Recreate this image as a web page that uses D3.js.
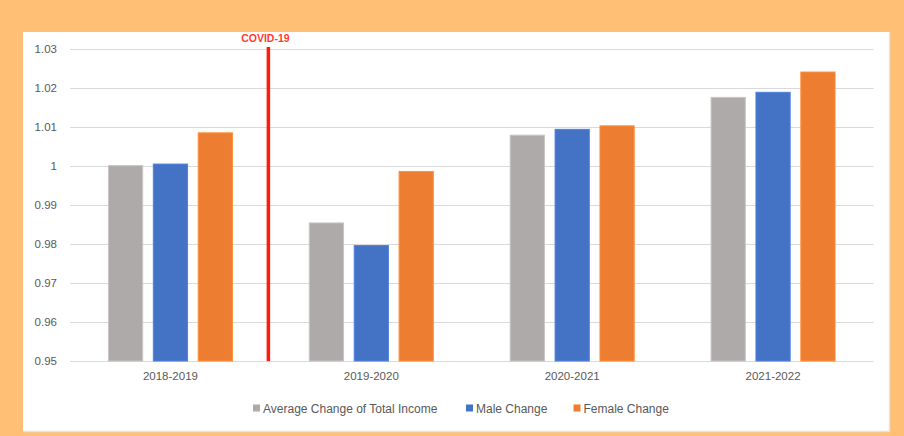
<!DOCTYPE html>
<html><head><meta charset="utf-8">
<script src="https://cdn.jsdelivr.net/npm/d3@7"></script>
<style>html,body{margin:0;padding:0;background:#FFBF75;}svg{display:block;}</style>
</head><body>
<svg id="chart" width="904" height="436"></svg>
<script>
const categories = ["2018-2019", "2019-2020", "2020-2021", "2021-2022"];
const seriesNames = ["Average Change of Total Income", "Male Change", "Female Change"];
const avgChange = [1.0001, 0.9854, 1.0079, 1.0176];
const maleChange = [1.0005, 0.9796, 1.0094, 1.0189];
const femaleChange = [1.0085, 0.9986, 1.0103, 1.0241];
const seriesColors = ["#AEAAAA", "#4472C4", "#ED7D31"];
const yTicks = [0.95, 0.96, 0.97, 0.98, 0.99, 1, 1.01, 1.02, 1.03];
const annotationLabel = "COVID-19";

const seriesValues = [avgChange, maleChange, femaleChange];
const font = "'Liberation Sans', Arial, sans-serif";
const svg = d3.select("#chart");

// background and panel
svg.append("rect").attr("width", 904).attr("height", 436).attr("fill", "#FFBF75");
svg.append("rect").attr("x", 23).attr("y", 32).attr("width", 866).attr("height", 399).attr("fill", "#fff");
svg.append("line").attr("x1", 889.5).attr("x2", 889.5).attr("y1", 32).attr("y2", 432).attr("stroke", "#E3E3E3").attr("stroke-width", 1.5);
svg.append("line").attr("x1", 23).attr("x2", 890).attr("y1", 431.5).attr("y2", 431.5).attr("stroke", "#E3E3E3").attr("stroke-width", 1.5);

const x = d3.scaleBand().domain(categories).range([70, 873.5]).paddingInner(0).paddingOuter(0);
const xs = d3.scaleBand().domain(seriesNames)
  .range([x.bandwidth() / 2 - 62.5, x.bandwidth() / 2 + 62.5]).paddingInner(0.215);
const y = d3.scaleLinear().domain([0.95, 1.03]).range([361, 49]);

// gridlines
svg.append("g").selectAll("line").data(yTicks).join("line")
  .attr("x1", 70).attr("x2", 873.5)
  .attr("y1", d => Math.round(y(d)) + 0.5).attr("y2", d => Math.round(y(d)) + 0.5)
  .attr("stroke", "#D9D9D9").attr("stroke-width", 1);

// y axis labels
const yAxis = d3.axisLeft(y).tickValues(yTicks).tickSize(0).tickPadding(0)
  .tickFormat(d => d3.format("")(+d.toFixed(2)));
const gy = svg.append("g").attr("transform", "translate(57,0)").call(yAxis);
gy.select(".domain").remove();
gy.selectAll("text").attr("font-family", font).attr("font-size", 11.5).attr("fill", "#595959");

// bars
const groups = svg.append("g").selectAll("g").data(categories).join("g")
  .attr("transform", d => `translate(${x(d)},0)`);
groups.selectAll("rect").data((c, i) => seriesNames.map((s, j) => ({s, j, v: seriesValues[j][i]})))
  .join("rect")
  .attr("x", d => xs(d.s) + 0.5)
  .attr("width", xs.bandwidth() - 1)
  .attr("y", d => y(d.v))
  .attr("height", d => y(0.95) - y(d.v))
  .attr("fill", d => seriesColors[d.j])
  .attr("stroke", d => d3.color(seriesColors[d.j]).brighter(0.4))
  .attr("stroke-width", 1);

// x axis labels
const xAxis = d3.axisBottom(x).tickSize(0).tickPadding(0);
const gx = svg.append("g").attr("transform", "translate(0,372)").call(xAxis);
gx.select(".domain").remove();
gx.selectAll("text").attr("font-family", font).attr("font-size", 11.5).attr("fill", "#595959").attr("dy", "0.71em");

// COVID annotation
const covidX = x(categories[1]) - 2.5;
svg.append("line").attr("x1", covidX).attr("x2", covidX).attr("y1", 47).attr("y2", y(0.95))
  .attr("stroke", "#FF1A0A").attr("stroke-width", 3.5);
svg.append("text").attr("x", covidX - 3).attr("y", 41.5).attr("text-anchor", "middle")
  .attr("font-family", font).attr("font-size", 10.5).attr("font-weight", "bold")
  .attr("fill", "#FF3B2E").text(annotationLabel);

// legend
const legendItems = [{x: 253}, {x: 466}, {x: 573.5}];
const lg = svg.append("g").selectAll("g").data(seriesNames).join("g")
  .attr("transform", (d, i) => `translate(${legendItems[i].x},404.5)`);
lg.append("rect").attr("width", 7).attr("height", 7).attr("fill", (d, i) => seriesColors[i]);
lg.append("text").attr("x", 10).attr("y", 8).attr("font-family", font).attr("font-size", 12)
  .attr("fill", "#595959").text(d => d);
</script>
</body></html>
